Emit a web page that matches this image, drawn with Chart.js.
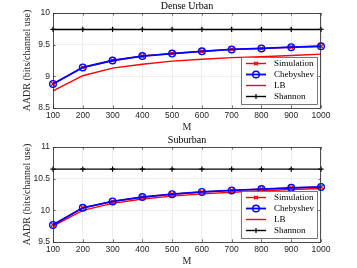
<!DOCTYPE html>
<html><head><meta charset="utf-8">
<script src="https://cdn.jsdelivr.net/npm/chart.js@4.4.1/dist/chart.umd.min.js"></script>
<style>
html,body{margin:0;padding:0;background:#fff;}
#wrap{position:relative;width:357px;height:268px;overflow:hidden;}
canvas{position:absolute;left:0;display:block;}
</style></head><body>
<div id="wrap">
<canvas id="c1" width="357" height="134" style="top:0"></canvas>
<canvas id="c2" width="357" height="134" style="top:134px"></canvas>
</div>
<script>
// ---- data ----
const mValues = [100, 200, 300, 400, 500, 600, 700, 800, 900, 1000];
const denseSim     = [8.88, 9.14, 9.25, 9.32, 9.36, 9.395, 9.425, 9.44, 9.46, 9.475];
const denseCheb    = [8.88, 9.14, 9.25, 9.32, 9.36, 9.395, 9.425, 9.44, 9.46, 9.475];
const denseLB      = [8.77, 9.01, 9.13, 9.19, 9.24, 9.27, 9.295, 9.31, 9.33, 9.35];
const denseShannon = [9.74, 9.74, 9.74, 9.74, 9.74, 9.74, 9.74, 9.74, 9.74, 9.74];
const subSim     = [9.77, 10.04, 10.14, 10.21, 10.255, 10.29, 10.315, 10.335, 10.355, 10.37];
const subCheb    = [9.77, 10.04, 10.14, 10.21, 10.255, 10.29, 10.315, 10.335, 10.355, 10.37];
const subLB      = [9.75, 10.0, 10.11, 10.18, 10.225, 10.26, 10.285, 10.31, 10.33, 10.345];
const subShannon = [10.65, 10.65, 10.65, 10.65, 10.65, 10.65, 10.65, 10.65, 10.65, 10.65];
const denseTicks = [8.5, 9, 9.5, 10];
const subTicks = [9.5, 10, 10.5, 11];
const xTicks = [100, 200, 300, 400, 500, 600, 700, 800, 900, 1000];
const legendLabels = ['Simulation', 'Chebyshev', 'LB', 'Shannon'];

const SERIF = '"Liberation Serif", "DejaVu Serif", serif';
const SANS = '"Liberation Sans", Arial, sans-serif';
const AXC = '#262626';

function pts(arr){ return mValues.map((m,i)=>({x:m,y:arr[i]})); }

const boxPlugin = {
  id:'boxPlugin',
  afterDraw(chart, args, opts){
    const ctx = chart.ctx, a = chart.chartArea;
    const xs = chart.scales.x, ys = chart.scales.y;
    ctx.save();
    // ticks inward
    ctx.strokeStyle = AXC; ctx.lineWidth = 0.6;
    const tl = 2.7;
    ctx.beginPath();
    xTicks.forEach(v=>{ const p = Math.round(xs.getPixelForValue(v))+0.5;
      ctx.moveTo(p,a.bottom); ctx.lineTo(p,a.bottom-tl);
      ctx.moveTo(p,a.top); ctx.lineTo(p,a.top+tl); });
    opts.yt.forEach(v=>{ const p = Math.round(ys.getPixelForValue(v))+0.5;
      ctx.moveTo(a.left,p); ctx.lineTo(a.left+tl,p);
      ctx.moveTo(a.right,p); ctx.lineTo(a.right-tl,p); });
    ctx.stroke();
    // box
    ctx.lineWidth = 0.8;
    ctx.strokeRect(a.left+0.5, a.top+0.5, a.right-a.left-1, a.bottom-a.top);
    // title
    ctx.fillStyle = '#000';
    ctx.font = '10px ' + SERIF;
    ctx.textAlign = 'center'; ctx.textBaseline = 'middle';
    ctx.fillText(opts.title, (a.left+a.right)/2, 6.5);
    // legend
    const lx = 241, ly = 57, lw = 76, lh = 47;
    ctx.fillStyle = '#fff';
    ctx.fillRect(lx, ly, lw, lh);
    ctx.strokeStyle = '#555'; ctx.lineWidth = 0.8;
    ctx.strokeRect(lx+0.5, ly+0.5, lw, lh);
    const ds = [chart.data.datasets[1], chart.data.datasets[0], chart.data.datasets[2], chart.data.datasets[3]];
    const rows = [63.5, 74.5, 85.5, 96.5];
    ds.forEach((d,i)=>{
      const y = rows[i];
      ctx.strokeStyle = d.borderColor; ctx.lineWidth = d.borderWidth;
      ctx.beginPath(); ctx.moveTo(246,y); ctx.lineTo(266,y); ctx.stroke();
      if (d.pointRadius > 0) {
        ctx.lineWidth = d.pointBorderWidth;
        ctx.strokeStyle = d.pointBorderColor;
        ctx.fillStyle = 'rgba(0,0,0,0)';
        Chart.helpers.drawPoint(ctx, {pointStyle:d.pointStyle, radius:d.pointRadius, rotation:0, borderWidth:d.pointBorderWidth}, 256, y);
      }
      ctx.fillStyle = '#000';
      ctx.font = '9px ' + SERIF;
      ctx.textAlign = 'left'; ctx.textBaseline = 'middle';
      ctx.fillText(legendLabels[i], 274, y+0.5);
    });
    ctx.restore();
  }
};

function makeChart(id, title, sim, cheb, lb, sh, ymin, ymax, yt){
  return new Chart(document.getElementById(id), {
    type:'line',
    data:{ datasets:[
      {label:legendLabels[1], data:pts(cheb), borderColor:'#0000ff', borderWidth:1.8, clip:false,
       pointStyle:'circle', pointRadius:3.3, pointBorderWidth:1.4, pointBorderColor:'#0000ff',
       pointBackgroundColor:'rgba(0,0,0,0)', order:0},
      {label:legendLabels[0], data:pts(sim), borderColor:'#ff0000', borderWidth:1.4, clip:false,
       pointStyle:'crossRot', pointRadius:2.6, pointBorderWidth:1.4, pointBorderColor:'#ff0000', order:1},
      {label:legendLabels[2], data:pts(lb), borderColor:'#ff0000', borderWidth:1.4, pointRadius:0, clip:false, order:2},
      {label:legendLabels[3], data:pts(sh), borderColor:'#000000', borderWidth:1.4, clip:false,
       pointStyle:'cross', pointRadius:2.6, pointBorderWidth:1.2, pointBorderColor:'#000000', order:3}
    ]},
    options:{
      responsive:false, animation:false, devicePixelRatio:1,
      layout:{padding:{top:13, right:36, left:0, bottom:0}},
      plugins:{legend:{display:false}, tooltip:{enabled:false}, title:{display:false},
        boxPlugin:{title:title, yt:yt}},
      elements:{line:{tension:0}},
      scales:{
        x:{type:'linear', min:100, max:1000,
          afterFit(s){ s.height = 26; },
          afterBuildTicks(s){ s.ticks = xTicks.map(v=>({value:v})); },
          grid:{color:'#e3e3e3', lineWidth:0.6, tickLength:0, drawTicks:false},
          border:{display:false},
          ticks:{font:{family:SANS, size:8.5}, color:AXC, padding:3, maxRotation:0, autoSkip:false,
            callback:(v)=>String(v)},
          title:{display:true, text:'M', font:{family:SERIF, size:10}, color:AXC, padding:{top:0,bottom:1}}
        },
        y:{type:'linear', min:ymin, max:ymax,
          afterFit(s){ s.width = 53; },
          afterBuildTicks(s){ s.ticks = yt.map(v=>({value:v})); },
          grid:{color:'#e3e3e3', lineWidth:0.6, tickLength:0, drawTicks:false},
          border:{display:false},
          ticks:{font:{family:SANS, size:8.5}, color:AXC, padding:3, callback:(v)=>String(v)},
          title:{display:true, text:'AADR (bits/channel use)', font:{family:SERIF, size:10}, color:AXC, padding:{top:21,bottom:0}}
        }
      }
    },
    plugins:[boxPlugin]
  });
}
makeChart('c1', 'Dense Urban', denseSim, denseCheb, denseLB, denseShannon, 8.5, 10, denseTicks);
makeChart('c2', 'Suburban', subSim, subCheb, subLB, subShannon, 9.5, 11, subTicks);
</script>
</body></html>
